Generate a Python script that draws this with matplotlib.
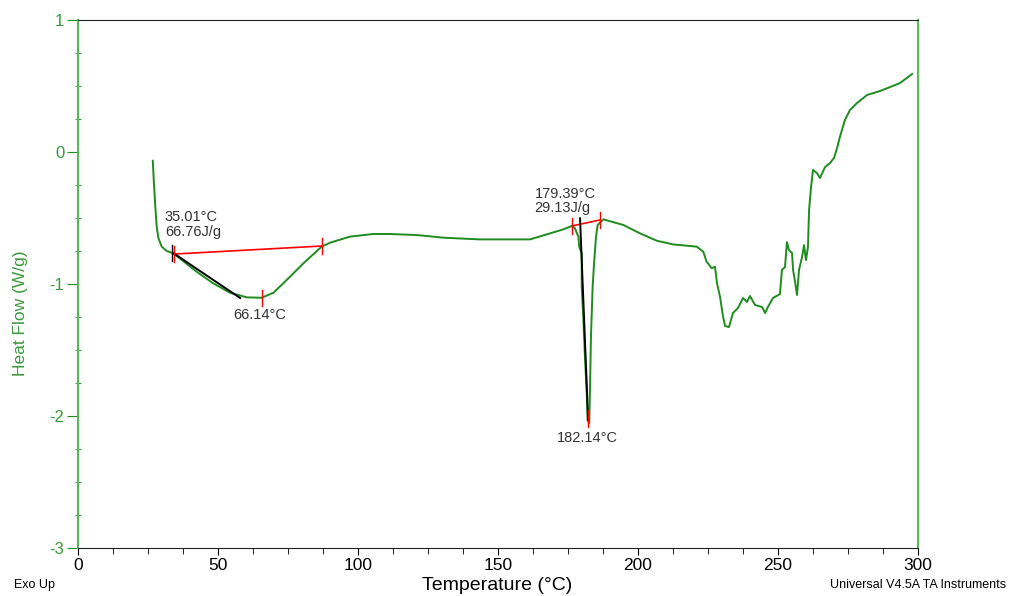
import matplotlib.pyplot as plt
from matplotlib.ticker import MultipleLocator

plt.rcParams['font.family'] = ['Liberation Sans', 'DejaVu Sans']
plt.rcParams['axes.unicode_minus'] = False

# DSC trace, temperature in C, heat flow in W/g
temp = [26.7, 27.1, 27.6, 28.1, 28.7, 29.9, 31.7, 34.0, 42.4, 48.3, 54.3, 60.3,
        65.6, 69.8, 74.5, 80.5, 87.0, 90.0, 97.1, 105.5, 111.4, 121.0, 130.5,
        143.6, 161.4, 167.4, 173.3, 176.3, 177.5, 178.7, 179.0, 179.9, 179.9,
        180.5, 181.1, 181.7, 182.0, 182.6, 182.9, 183.2, 183.8, 184.3, 185.0,
        185.6, 187.6, 194.8, 200.7, 206.7, 212.6, 221.0, 223.3, 224.5, 226.3,
        227.5, 228.2, 229.3, 230.4, 231.1, 232.5, 233.9, 235.7,
        237.5, 238.9, 240.0, 241.8, 244.3, 245.4, 246.4, 248.2, 250.7, 251.4,
        252.5, 253.2, 253.9, 255.0, 255.4, 256.1, 256.8, 257.5, 258.6, 259.3,
        260.0, 260.7, 261.1, 261.8, 262.5, 263.9, 265.0, 266.8, 268.6, 270.0,
        271.1, 272.1, 273.9, 275.7, 278.2, 281.8, 286.4, 290.0, 293.6, 297.9]
heat = [-0.066, -0.235, -0.415, -0.566, -0.652, -0.717, -0.750, -0.767, -0.907,
        -0.995, -1.066, -1.101, -1.104, -1.066, -0.970, -0.843, -0.717, -0.687,
        -0.641, -0.621, -0.621, -0.629, -0.649, -0.662, -0.662, -0.624, -0.586,
        -0.561, -0.578, -0.641, -0.717, -0.768, -1.020, -1.270, -1.576, -1.830,
        -2.030, -2.055, -1.750, -1.400, -1.020, -0.843, -0.641, -0.553, -0.510,
        -0.553, -0.616, -0.672, -0.700, -0.717, -0.755, -0.830, -0.880,
        -0.869, -0.992, -1.098, -1.250, -1.318, -1.326, -1.220, -1.182,
        -1.106, -1.136, -1.091, -1.159, -1.174, -1.220, -1.174, -1.106, -1.076,
        -0.894, -0.871, -0.682, -0.742, -0.765, -0.894, -0.985, -1.083, -0.894,
        -0.795, -0.705, -0.818, -0.720, -0.439, -0.265, -0.136, -0.159, -0.197,
        -0.114, -0.083, -0.045, 0.030, 0.114, 0.242, 0.318, 0.371, 0.432, 0.462,
        0.492, 0.523, 0.591]

# peak analysis annotations
base1_t = [34.3, 87.1]
base1_h = [-0.773, -0.712]
tan1_t = [34.0, 57.9]
tan1_h = [-0.765, -1.106]
peak1 = (65.6, -1.104)
base2_t = [176.4, 186.4]
base2_h = [-0.560, -0.515]
tan2_t = [179.3, 182.2]
tan2_h = [-0.502, -2.030]
peak2 = (182.2, -2.055)

green = '#1e8c1e'
axis_green = '#5cb85c'
label_green = '#3a9a3a'

fig = plt.figure(figsize=(10.12, 5.96), dpi=100)
ax = fig.add_axes([0.0771, 0.0805, 0.8300, 0.8859])

ax.plot(temp, heat, color=green, lw=1.4)

# baselines (red) and tangents (black)
ax.plot(base1_t, base1_h, color='red', lw=1.2)
ax.plot(tan1_t, tan1_h, color='black', lw=1.4)
ax.plot(base2_t, base2_h, color='red', lw=1.2)
ax.plot(tan2_t, tan2_h, color='black', lw=1.4)
for t, h in zip(base1_t + base2_t, base1_h + base2_h):
    ax.plot([t, t], [h - 0.06, h + 0.06], color='red', lw=1)
ax.plot([tan1_t[0] - 0.5] * 2, [tan1_h[0] - 0.06, tan1_h[0] + 0.06], color='black', lw=1)
ax.plot([peak1[0]] * 2, [peak1[1] - 0.06, peak1[1] + 0.06], color='red', lw=1)
ax.plot([peak2[0]] * 2, [peak2[1] - 0.03, peak2[1] + 0.1], color='red', lw=1)

ax.text(31.0, -0.55, '35.01°C\n66.76J/g', fontsize=10.5, color='#333333',
        va='center', ha='left', linespacing=1.05)
ax.text(65.0, -1.235, '66.14°C', fontsize=10.5, color='#333333', va='center', ha='center')
ax.text(163.0, -0.37, '179.39°C\n29.13J/g', fontsize=10.5, color='#333333',
        va='center', ha='left', linespacing=1.05)
ax.text(182.0, -2.17, '182.14°C', fontsize=10.5, color='#333333', va='center', ha='center')

ax.set_xlim(0, 300)
ax.set_ylim(-3, 1)
ax.xaxis.set_major_locator(MultipleLocator(50))
ax.xaxis.set_minor_locator(MultipleLocator(12.5))
ax.yaxis.set_major_locator(MultipleLocator(1))
ax.yaxis.set_minor_locator(MultipleLocator(0.25))

ax.spines['left'].set_color(axis_green)
ax.spines['right'].set_color(axis_green)
ax.spines['left'].set_linewidth(1.5)
ax.spines['right'].set_linewidth(1.5)
ax.spines['top'].set_color('#222222')
ax.spines['bottom'].set_color('#222222')

ax.tick_params(axis='y', which='major', direction='out', length=8, color=green,
               labelcolor=label_green, labelsize=12, pad=2)
ax.tick_params(axis='y', which='minor', direction='inout', length=5, color=green)
ax.tick_params(axis='x', which='major', direction='out', length=5, labelsize=12.5, pad=2)
ax.tick_params(axis='x', which='minor', direction='out', length=4)

fig.text(0.020, 0.474, 'Heat Flow (W/g)', color=label_green, fontsize=12.5,
         rotation=90, ha='center', va='center')
fig.text(0.491, 0.018, 'Temperature (°C)', fontsize=14, ha='center', va='center')
fig.text(0.014, 0.018, 'Exo Up', fontsize=9, va='center')
fig.text(0.994, 0.018, 'Universal V4.5A TA Instruments', fontsize=9, ha='right', va='center')

fig.savefig('out.png', dpi=100)
